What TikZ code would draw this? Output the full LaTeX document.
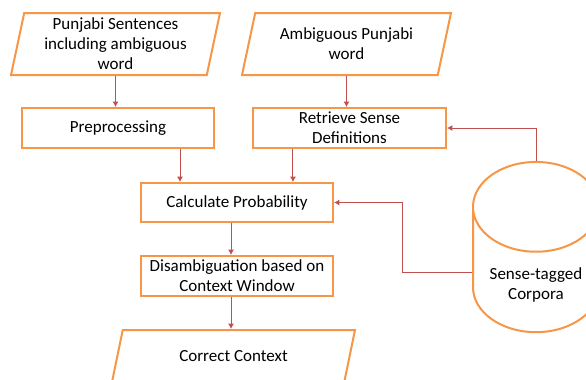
\documentclass[tikz,border=0pt]{standalone}
\usepackage{fontspec}
\setmainfont{Carlito}
\usetikzlibrary{shapes.geometric,arrows.meta}
\definecolor{boxorange}{HTML}{F79646}
\definecolor{linkred}{HTML}{C0504D}

\begin{document}
\begin{tikzpicture}[x=0.75pt,y=-0.75pt,
      font=\fontsize{12.75pt}{15pt}\selectfont,
      box/.style={draw=boxorange,line width=1.5pt,fill=white,align=center,
          minimum width=144pt,minimum height=30pt,inner sep=0pt},
      data/.style={box,trapezium,trapezium left angle=77,trapezium right angle=103,
          trapezium stretches body,minimum width=156.75pt,minimum height=46.5pt},
      store/.style={box,cylinder,shape border rotate=90,shape aspect=0.97,
          minimum width=94.5pt,minimum height=110pt},
      link/.style={draw=linkred,line width=0.75pt,-{Latex[length=4pt,width=4.5pt]}}
    ]
    \clip (0,0) rectangle (586,379);
    % inputs
    \node[data,inner ysep=2pt] (sent) at (115.5,44) {Punjabi Sentences\\including ambiguous\\word};
    \node[data,inner ysep=9.5pt] (ambig) at (346.5,44) {Ambiguous Punjabi\\word};
    % processing steps
    \node[box] (prep) at (118,128) {Preprocessing};
    \node[box,minimum width=144.75pt] (retr) at (349.5,128) {Retrieve Sense\\Definitions};
    \node[box,minimum height=29.25pt] (calc) at (237,202.5) {Calculate Probability};
    \node[box] (disamb) at (237,276) {Disambiguation based on\\Context Window};
    \node[data,inner ysep=13.25pt,minimum width=182.25pt,minimum height=39pt] (ctx) at (233.5,356) {Correct Context};
    % corpus (text sits low in the drum)
    \node[store] (corp) at (536,270) {\phantom{Sense-tagged}\\\phantom{Corpora}};
    \node[align=center,inner sep=0pt] (corptext) at (536,285) {Sense-tagged\\Corpora};

    \draw[link] (sent.south) -- (sent.south |- prep.north);
    \draw[link] (ambig.south) -- (ambig.south |- retr.north);
    \draw[link] ([xshift=46.5pt]prep.south) coordinate (p1) -- (p1 |- calc.north);
    \draw[link] ([xshift=-42.4pt]retr.south) coordinate (r1) -- (r1 |- calc.north);
    \draw[link] ([xshift=-4.5pt]calc.south) coordinate (c1) -- (c1 |- disamb.north);
    \draw[link] ([xshift=-4.5pt]disamb.south) coordinate (d1) -- (d1 |- ctx.north);
    \draw[link] (corp.top) |- (retr.east);
    \draw[link] ([yshift=-2pt]corp.west) -- ++(-70,0) |- (calc.east);
\end{tikzpicture}
\end{document}
